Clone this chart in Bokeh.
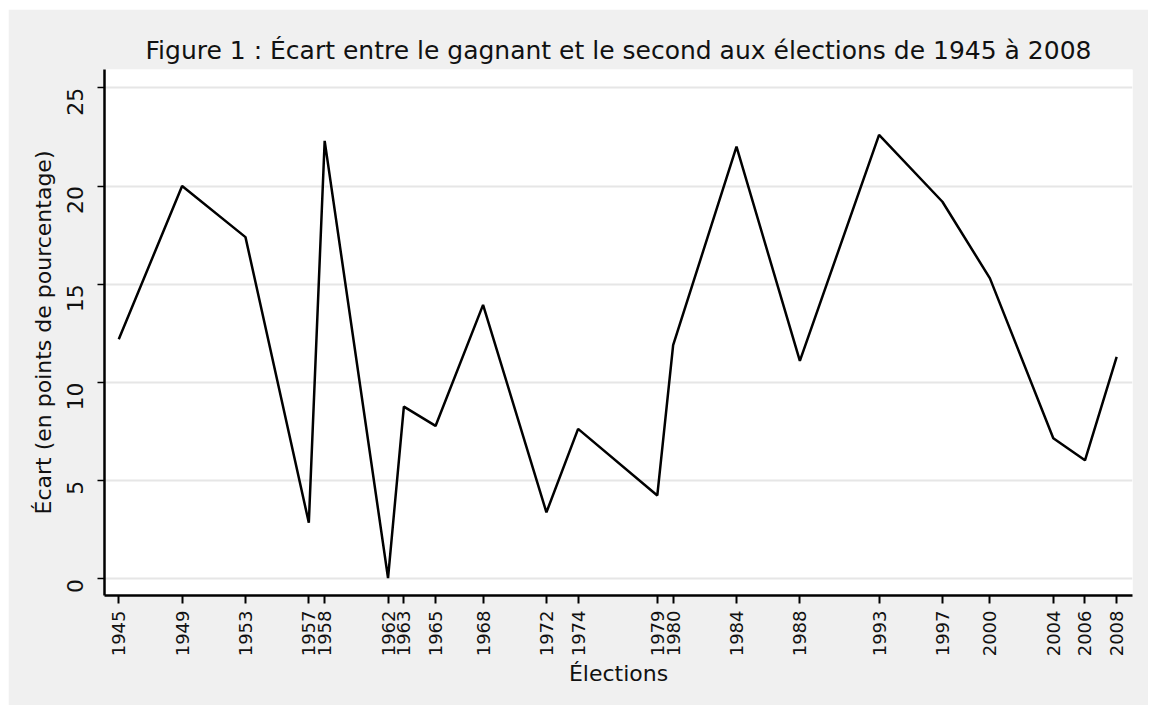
import math
from bokeh.plotting import figure
from bokeh.models import FixedTicker, Range1d
from bokeh.embed import file_html
from bokeh.resources import INLINE

years = [1945, 1949, 1953, 1957, 1958, 1962, 1963, 1965, 1968, 1972, 1974,
         1979, 1980, 1984, 1988, 1993, 1997, 2000, 2004, 2006, 2008]
ecart = [12.2, 20.0, 17.4, 2.86, 22.3, 0.05, 8.77, 7.79, 13.95, 3.39, 7.64,
         4.25, 11.9, 22.0, 11.1, 22.6, 19.2, 15.3, 7.16, 6.04, 11.3]
y_ticks = [0, 5, 10, 15, 20, 25]

title_text = "Figure 1 : Écart entre le gagnant et le second aux élections de 1945 à 2008"
FONT = "DejaVu Sans"
BG = "#f0f0f0"
TXT = "#111111"

p = figure(width=1140, height=696, output_backend="svg", toolbar_location=None,
           x_range=Range1d(1944.1, 2009.0), y_range=Range1d(-0.84, 25.93),
           title=title_text, min_border_left=96, min_border_top=60,
           min_border_right=16, min_border_bottom=110, margin=(9, 0, 0, 8))

p.background_fill_color = "white"
p.border_fill_color = BG
p.outline_line_color = None

p.title.text_font = FONT
p.title.text_font_size = "25px"
p.title.text_font_style = "normal"
p.title.text_color = TXT
p.title.align = "center"

p.line(years, ecart, line_color="black", line_width=2.5)

# x axis
p.xaxis.ticker = FixedTicker(ticks=years)
p.xaxis.major_label_orientation = math.pi / 2
p.xaxis.major_label_text_font = FONT
p.xaxis.major_label_text_font_size = "18px"
p.xaxis.major_label_text_color = TXT
p.xaxis.axis_label = "Élections"
p.xaxis.axis_label_text_font = FONT
p.xaxis.axis_label_text_font_size = "22px"
p.xaxis.axis_label_text_font_style = "normal"
p.xaxis.axis_label_text_color = TXT
p.xaxis.axis_label_standoff = 2
p.xaxis.major_label_standoff = 7
p.xaxis.minor_tick_line_color = None
p.xaxis.major_tick_out = 8
p.xaxis.major_tick_in = 0
p.xaxis.major_tick_line_width = 2
p.xaxis.axis_line_width = 2.5

# y axis
p.yaxis.ticker = FixedTicker(ticks=y_ticks)
p.yaxis.major_label_orientation = math.pi / 2
p.yaxis.major_label_text_font = FONT
p.yaxis.major_label_text_font_size = "22px"
p.yaxis.major_label_text_color = TXT
p.yaxis.axis_label = "Écart (en points de pourcentage)"
p.yaxis.axis_label_text_font = FONT
p.yaxis.axis_label_text_font_size = "22px"
p.yaxis.axis_label_text_font_style = "normal"
p.yaxis.axis_label_text_color = TXT
p.yaxis.axis_label_standoff = 1
p.yaxis.major_label_standoff = 22
p.yaxis.minor_tick_line_color = None
p.yaxis.major_tick_out = 7
p.yaxis.major_tick_in = 0
p.yaxis.major_tick_line_width = 1.5
p.yaxis.axis_line_width = 2.5

p.xgrid.grid_line_color = None
p.ygrid.ticker = FixedTicker(ticks=y_ticks)
p.ygrid.grid_line_color = "#e6e6e6"
p.ygrid.grid_line_width = 2

open("out.html", "w").write(file_html(p, INLINE))
